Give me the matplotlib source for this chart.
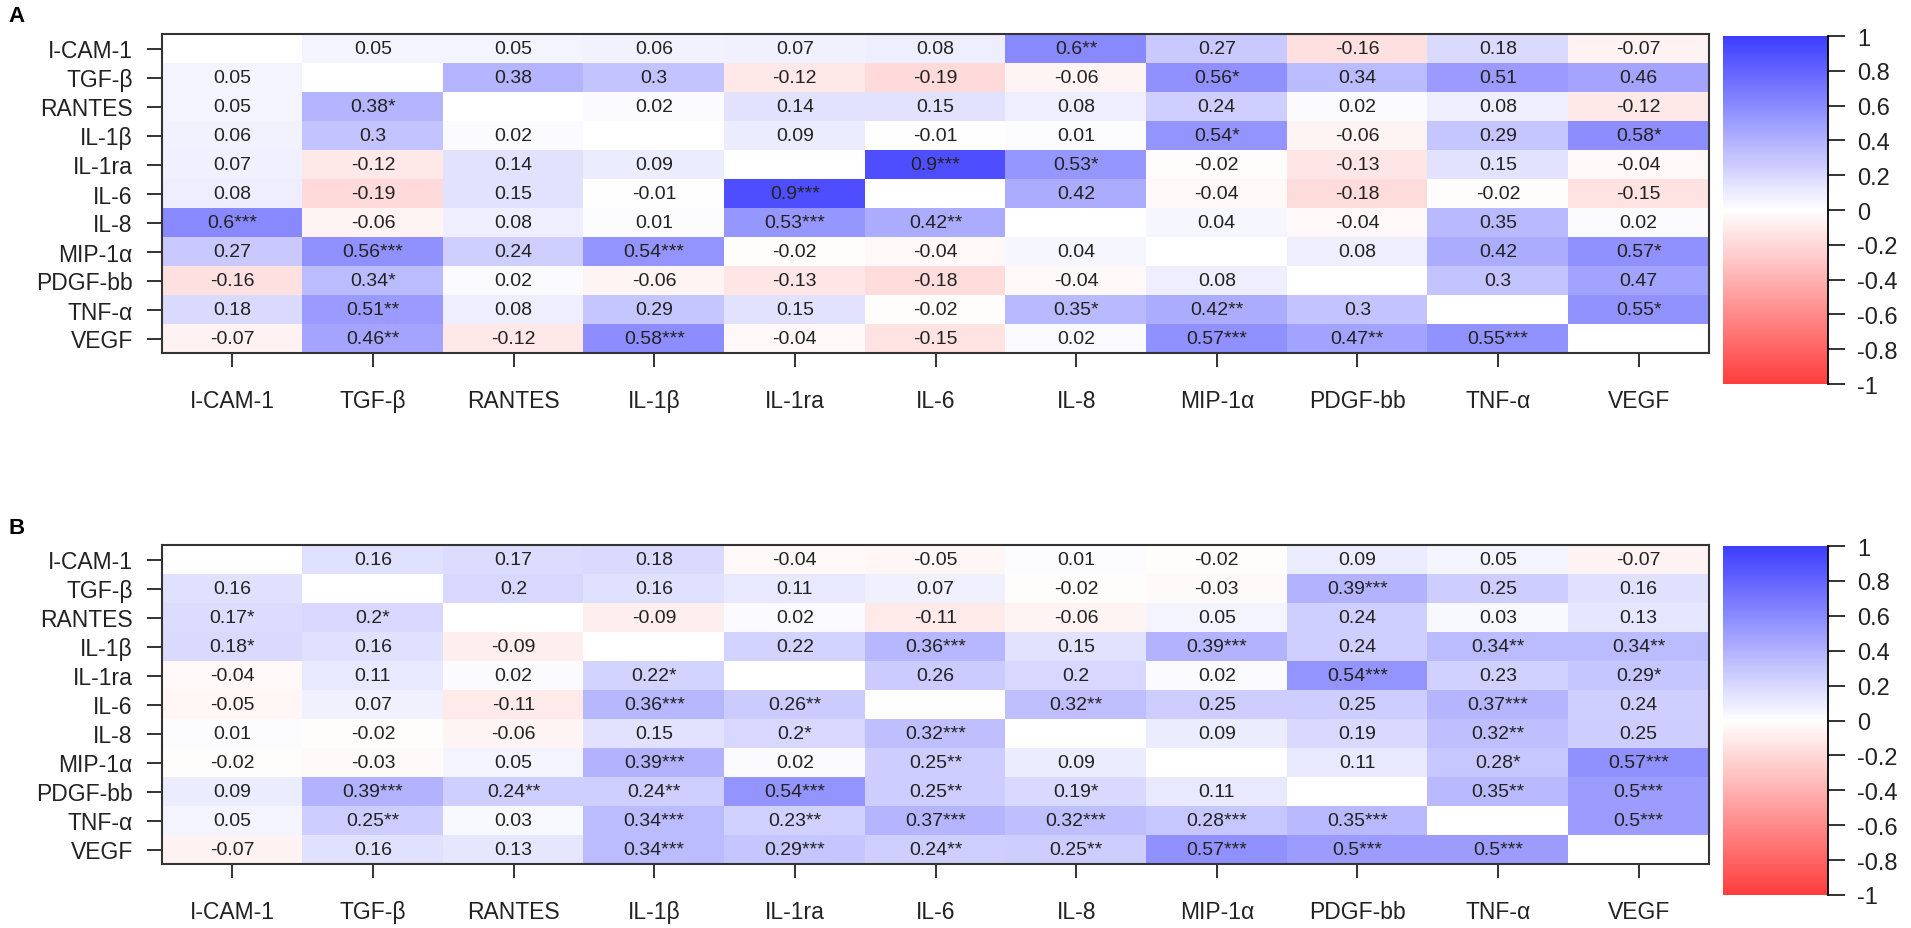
import numpy as np
import matplotlib
matplotlib.use("Agg")
import matplotlib.pyplot as plt
from matplotlib.colors import LinearSegmentedColormap

plt.rcParams['font.family'] = ['Liberation Sans', 'DejaVu Sans']

markers = ["I-CAM-1", "TGF-β", "RANTES", "IL-1β", "IL-1ra", "IL-6",
           "IL-8", "MIP-1α", "PDGF-bb", "TNF-α", "VEGF"]

N = None  # diagonal, left blank

# panel A: correlation values (rows / columns in the order of markers)
vals_a = [
    [N, 0.05, 0.05, 0.06, 0.07, 0.08, 0.6, 0.27, -0.16, 0.18, -0.07],
    [0.05, N, 0.38, 0.3, -0.12, -0.19, -0.06, 0.56, 0.34, 0.51, 0.46],
    [0.05, 0.38, N, 0.02, 0.14, 0.15, 0.08, 0.24, 0.02, 0.08, -0.12],
    [0.06, 0.3, 0.02, N, 0.09, -0.01, 0.01, 0.54, -0.06, 0.29, 0.58],
    [0.07, -0.12, 0.14, 0.09, N, 0.9, 0.53, -0.02, -0.13, 0.15, -0.04],
    [0.08, -0.19, 0.15, -0.01, 0.9, N, 0.42, -0.04, -0.18, -0.02, -0.15],
    [0.6, -0.06, 0.08, 0.01, 0.53, 0.42, N, 0.04, -0.04, 0.35, 0.02],
    [0.27, 0.56, 0.24, 0.54, -0.02, -0.04, 0.04, N, 0.08, 0.42, 0.57],
    [-0.16, 0.34, 0.02, -0.06, -0.13, -0.18, -0.04, 0.08, N, 0.3, 0.47],
    [0.18, 0.51, 0.08, 0.29, 0.15, -0.02, 0.35, 0.42, 0.3, N, 0.55],
    [-0.07, 0.46, -0.12, 0.58, -0.04, -0.15, 0.02, 0.57, 0.47, 0.55, N],
]
# number of significance stars
stars_a = [
    [0, 0, 0, 0, 0, 0, 2, 0, 0, 0, 0],
    [0, 0, 0, 0, 0, 0, 0, 1, 0, 0, 0],
    [0, 1, 0, 0, 0, 0, 0, 0, 0, 0, 0],
    [0, 0, 0, 0, 0, 0, 0, 1, 0, 0, 1],
    [0, 0, 0, 0, 0, 3, 1, 0, 0, 0, 0],
    [0, 0, 0, 0, 3, 0, 0, 0, 0, 0, 0],
    [3, 0, 0, 0, 3, 2, 0, 0, 0, 0, 0],
    [0, 3, 0, 3, 0, 0, 0, 0, 0, 0, 1],
    [0, 1, 0, 0, 0, 0, 0, 0, 0, 0, 0],
    [0, 2, 0, 0, 0, 0, 1, 2, 0, 0, 1],
    [0, 2, 0, 3, 0, 0, 0, 3, 2, 3, 0],
]

# panel B
vals_b = [
    [N, 0.16, 0.17, 0.18, -0.04, -0.05, 0.01, -0.02, 0.09, 0.05, -0.07],
    [0.16, N, 0.2, 0.16, 0.11, 0.07, -0.02, -0.03, 0.39, 0.25, 0.16],
    [0.17, 0.2, N, -0.09, 0.02, -0.11, -0.06, 0.05, 0.24, 0.03, 0.13],
    [0.18, 0.16, -0.09, N, 0.22, 0.36, 0.15, 0.39, 0.24, 0.34, 0.34],
    [-0.04, 0.11, 0.02, 0.22, N, 0.26, 0.2, 0.02, 0.54, 0.23, 0.29],
    [-0.05, 0.07, -0.11, 0.36, 0.26, N, 0.32, 0.25, 0.25, 0.37, 0.24],
    [0.01, -0.02, -0.06, 0.15, 0.2, 0.32, N, 0.09, 0.19, 0.32, 0.25],
    [-0.02, -0.03, 0.05, 0.39, 0.02, 0.25, 0.09, N, 0.11, 0.28, 0.57],
    [0.09, 0.39, 0.24, 0.24, 0.54, 0.25, 0.19, 0.11, N, 0.35, 0.5],
    [0.05, 0.25, 0.03, 0.34, 0.23, 0.37, 0.32, 0.28, 0.35, N, 0.5],
    [-0.07, 0.16, 0.13, 0.34, 0.29, 0.24, 0.25, 0.57, 0.5, 0.5, N],
]
stars_b = [
    [0, 0, 0, 0, 0, 0, 0, 0, 0, 0, 0],
    [0, 0, 0, 0, 0, 0, 0, 0, 3, 0, 0],
    [1, 1, 0, 0, 0, 0, 0, 0, 0, 0, 0],
    [1, 0, 0, 0, 0, 3, 0, 3, 0, 2, 2],
    [0, 0, 0, 1, 0, 0, 0, 0, 3, 0, 1],
    [0, 0, 0, 3, 2, 0, 2, 0, 0, 3, 0],
    [0, 0, 0, 0, 1, 3, 0, 0, 0, 2, 0],
    [0, 0, 0, 3, 0, 2, 0, 0, 0, 1, 3],
    [0, 3, 2, 2, 3, 2, 1, 0, 0, 2, 3],
    [0, 2, 0, 3, 2, 3, 3, 3, 3, 0, 3],
    [0, 0, 0, 3, 3, 2, 2, 3, 3, 3, 0],
]

cb_ticks = [-1, -0.8, -0.6, -0.4, -0.2, 0, 0.2, 0.4, 0.6, 0.8, 1]
cb_labels = ["-1", "-0.8", "-0.6", "-0.4", "-0.2", "0",
             "0.2", "0.4", "0.6", "0.8", "1"]

cmap = LinearSegmentedColormap.from_list(
    "rwb", [(1.0, 0.24, 0.24), (1, 1, 1), (0.24, 0.24, 1.0)], N=200)
cmap.set_bad("white")

W, H = 1911, 929
fig = plt.figure(figsize=(W / 100, H / 100), dpi=100)


def px_axes(x0, y0, x1, y1):
    return fig.add_axes([x0 / W, 1 - y1 / H, (x1 - x0) / W, (y1 - y0) / H])


def panel(vals, stars, top, cb_top, cb_bot, letter):
    ax = px_axes(162, top, 1709, top + 319)
    m = np.array([[np.nan if v is None else v for v in row] for row in vals])
    im = ax.imshow(m, cmap=cmap, vmin=-1, vmax=1, aspect='auto',
                   interpolation='nearest')
    n = len(markers)
    for i in range(n):
        for j in range(n):
            v = vals[i][j]
            if v is None:
                continue
            ax.text(j, i, f"{v:g}" + "*" * stars[i][j], ha='center',
                    va='center', fontsize=14, color='#222222')
    ax.set_xticks(range(n))
    ax.set_xticklabels(markers)
    ax.set_yticks(range(n))
    ax.set_yticklabels(markers)
    ax.tick_params(axis='x', length=10, width=1.3, pad=16, labelsize=16.5,
                   colors='#222222')
    ax.tick_params(axis='y', length=11, width=1.3, pad=10, labelsize=16.5,
                   colors='#222222')
    for s in ax.spines.values():
        s.set_linewidth(1.5)
        s.set_color('#333333')
    fig.text(8 / W, 1 - (top - 18) / H, letter, fontsize=16, weight='bold',
             ha='left', va='center')

    cax = px_axes(1723, cb_top, 1828, cb_bot)
    cb = fig.colorbar(im, cax=cax)
    cb.outline.set_visible(False)
    cax.spines['right'].set_visible(True)
    cax.spines['right'].set_linewidth(1.3)
    cb.set_ticks(cb_ticks)
    cb.set_ticklabels(cb_labels)
    cax.tick_params(length=12, width=1.3, pad=9, labelsize=17,
                    colors='#222222')
    return ax


panel(vals_a, stars_a, 35, 37, 385, "A")
panel(vals_b, stars_b, 546, 547, 896, "B")

fig.savefig("out.png", dpi=100)
